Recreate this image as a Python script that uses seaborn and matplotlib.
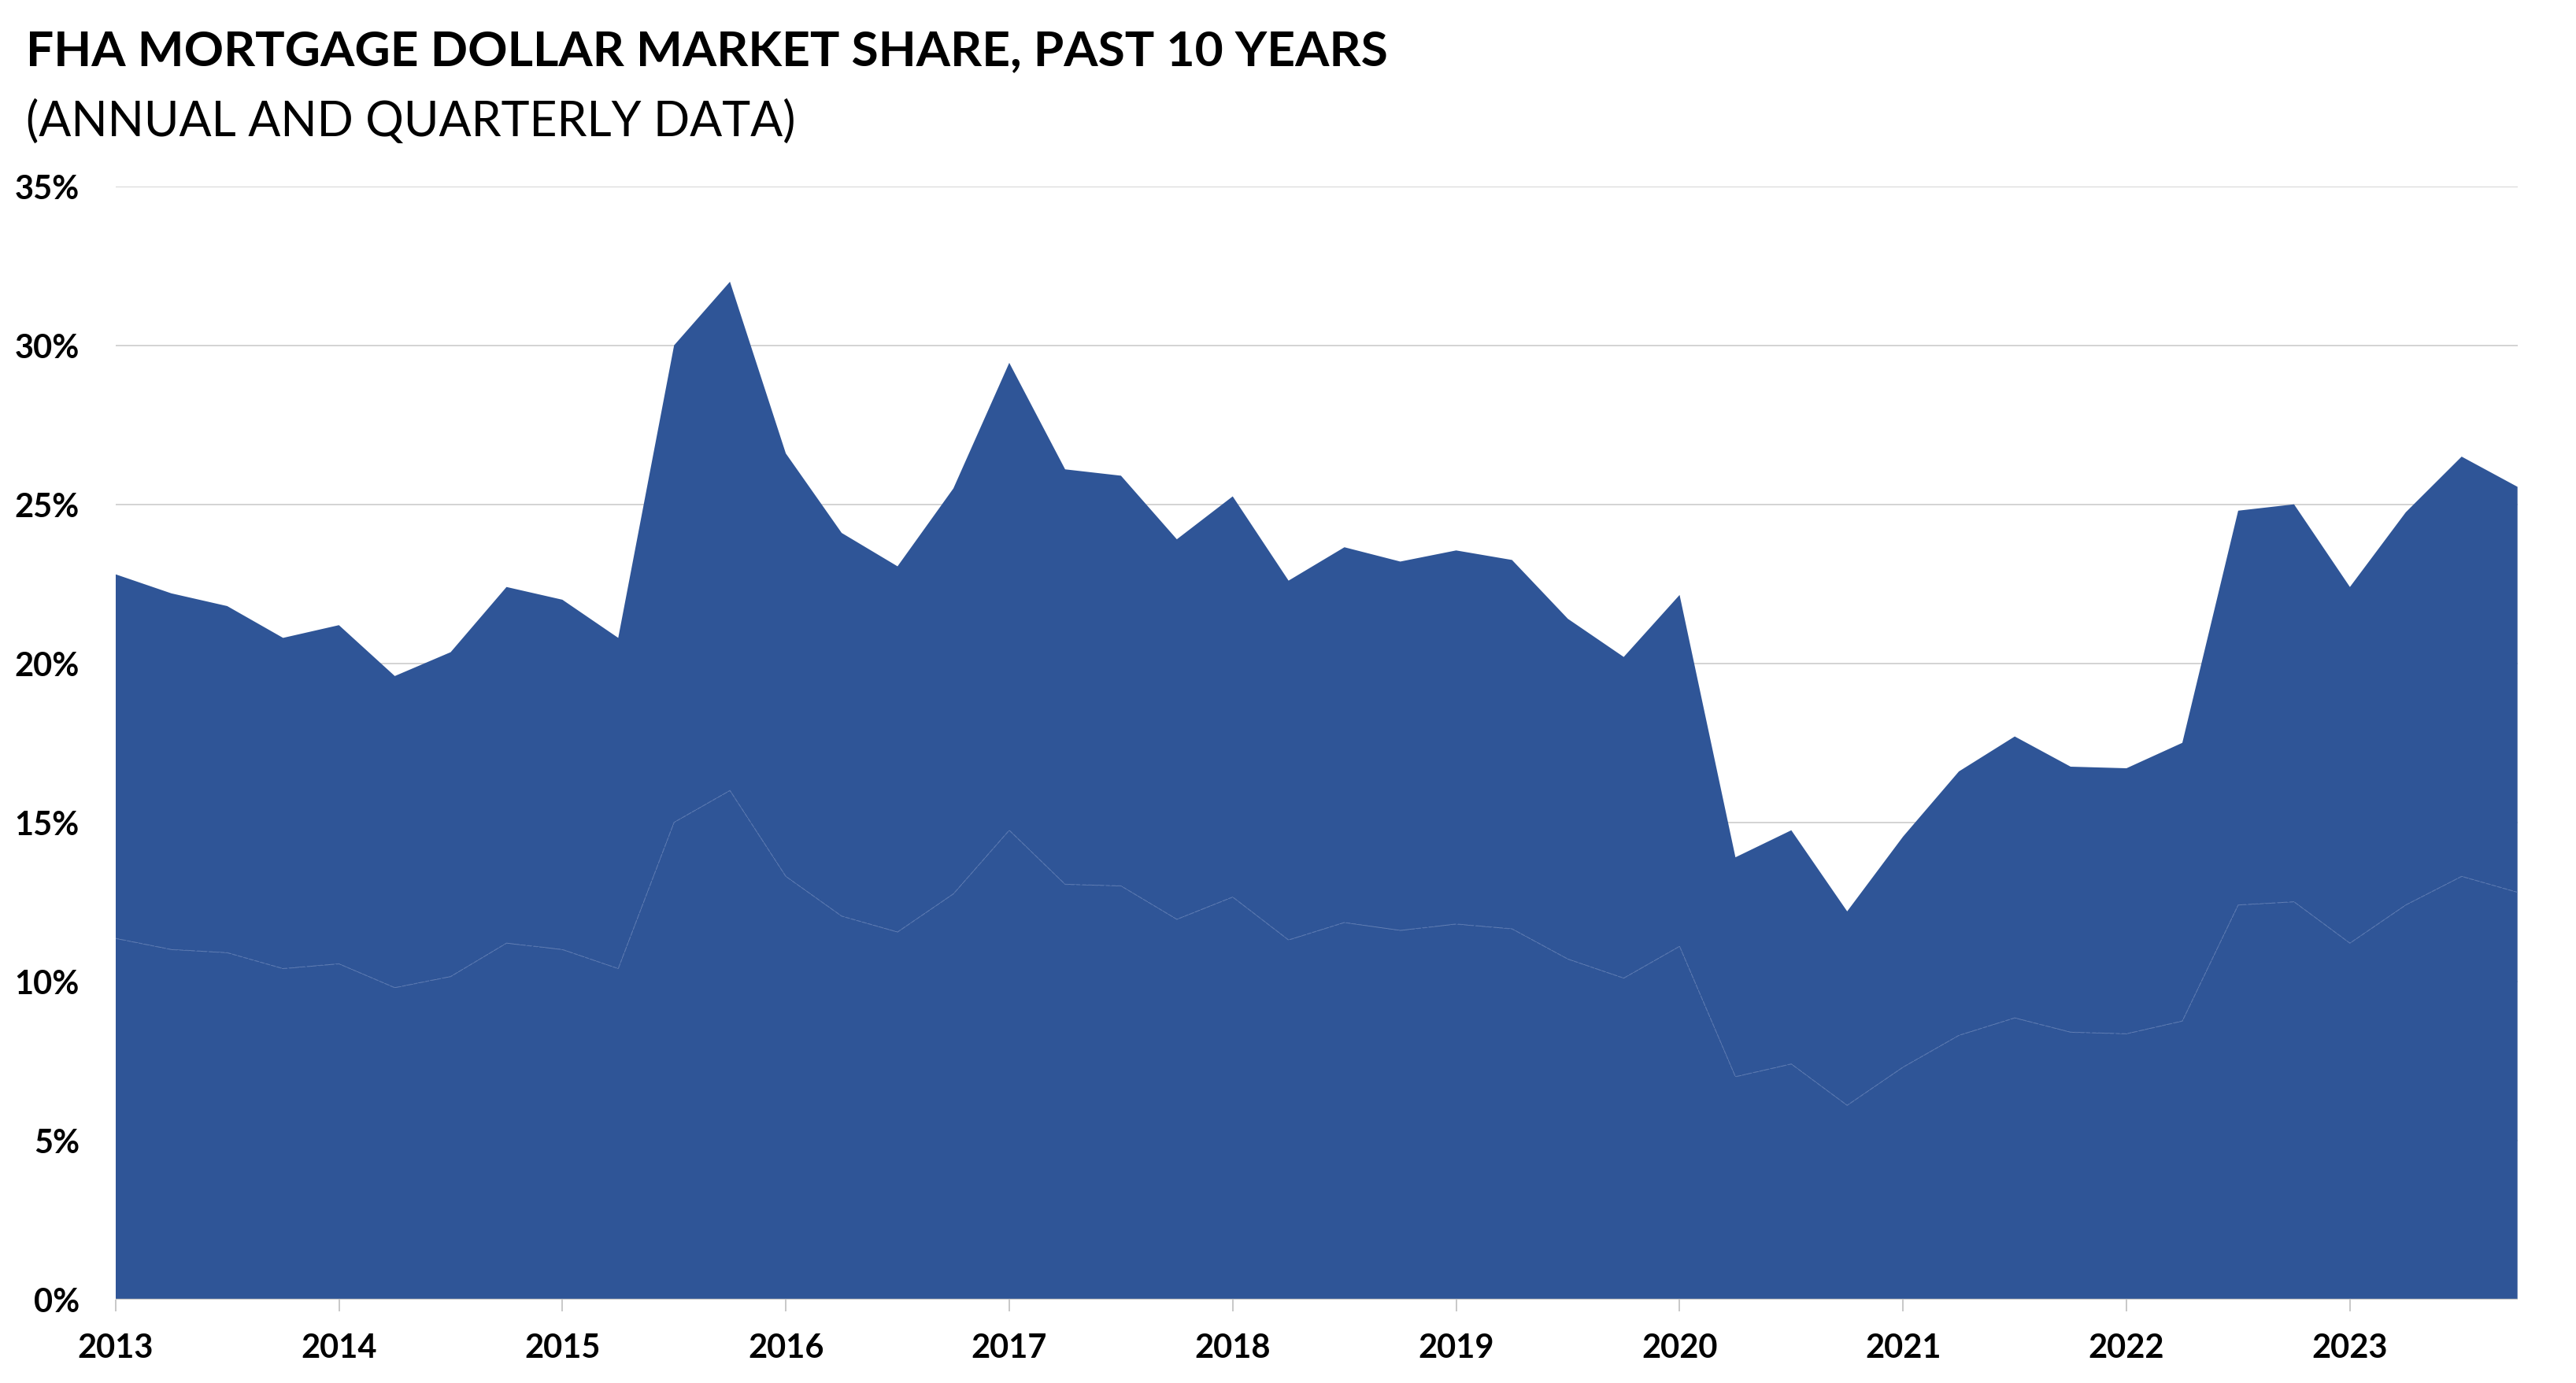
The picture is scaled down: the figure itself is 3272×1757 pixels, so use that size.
import matplotlib
matplotlib.use("Agg")
import matplotlib.pyplot as plt
import seaborn as sns
import numpy as np
import pandas as pd

# ---------------- data ----------------
quarters = [
    "2013Q1", "2013Q2", "2013Q3", "2013Q4",
    "2014Q1", "2014Q2", "2014Q3", "2014Q4",
    "2015Q1", "2015Q2", "2015Q3", "2015Q4",
    "2016Q1", "2016Q2", "2016Q3", "2016Q4",
    "2017Q1", "2017Q2", "2017Q3", "2017Q4",
    "2018Q1", "2018Q2", "2018Q3", "2018Q4",
    "2019Q1", "2019Q2", "2019Q3", "2019Q4",
    "2020Q1", "2020Q2", "2020Q3", "2020Q4",
    "2021Q1", "2021Q2", "2021Q3", "2021Q4",
    "2022Q1", "2022Q2", "2022Q3", "2022Q4",
    "2023Q1", "2023Q2", "2023Q3", "2023Q4",
]
# lower layer (annual share)
lower_share = [
    11.35, 11.0, 10.9, 10.4,
    10.55, 9.8, 10.15, 11.2,
    11.0, 10.4, 15.0, 16.0,
    13.3, 12.05, 11.55, 12.75,
    14.75, 13.05, 13.0, 11.95,
    12.65, 11.3, 11.85, 11.6,
    11.8, 11.65, 10.7, 10.1,
    11.1, 7.0, 7.4, 6.1,
    7.3, 8.3, 8.85, 8.4,
    8.35, 8.75, 12.4, 12.5,
    11.2, 12.4, 13.3, 12.8,
]
# top of the stack (cumulative)
total_share = [
    22.8, 22.2, 21.8, 20.8,
    21.2, 19.6, 20.35, 22.4,
    22.0, 20.8, 30.0, 32.0,
    26.6, 24.1, 23.05, 25.5,
    29.45, 26.1, 25.9, 23.9,
    25.25, 22.6, 23.65, 23.2,
    23.55, 23.25, 21.4, 20.2,
    22.15, 13.9, 14.75, 12.2,
    14.55, 16.6, 17.7, 16.75,
    16.7, 17.5, 24.8, 25.0,
    22.4, 24.75, 26.5, 25.55,
]
year_labels = ["2013", "2014", "2015", "2016", "2017", "2018",
               "2019", "2020", "2021", "2022", "2023"]
y_ticks = [0, 5, 10, 15, 20, 25, 30, 35]

title = "FHA MORTGAGE DOLLAR MARKET SHARE, PAST 10 YEARS"
subtitle = "(ANNUAL AND QUARTERLY DATA)"

# ---------------- build frame ----------------
df = pd.DataFrame({"quarter": quarters,
                   "lower": np.array(lower_share) / 100.0,
                   "total": np.array(total_share) / 100.0})
df["x"] = df["quarter"].str[:4].astype(int) + (df["quarter"].str[-1].astype(int) - 1) / 4.0
df["upper"] = df["total"] - df["lower"]

# ---------------- style ----------------
sns.set_theme(style="white")
plt.rcParams["font.family"] = ["Lato", "DejaVu Sans"]

FILL = "#2F5597"
EDGE = "#5574AE"
GRID = "#D3D3D3"

W, H, DPI = 3272, 1758, 100
fig = plt.figure(figsize=(W / DPI, H / DPI), dpi=DPI)
ax = fig.add_axes([146.7 / W, 1 - 1651.7 / H, (3197.7 - 146.7) / W, (1651.7 - 237.7) / H])

ax.stackplot(df["x"], df["lower"], df["upper"], colors=[FILL, FILL],
             linewidth=0, edgecolor="none", zorder=2)
sns.lineplot(data=df, x="x", y="lower", ax=ax, color=EDGE, linewidth=0.9,
             linestyle=(0, (4, 2)), zorder=3, legend=False)

ax.set_xlim(2013, 2023.75)
ax.set_ylim(0, 0.35)
ax.set_yticks([v / 100 for v in y_ticks])
ax.set_yticklabels([f"{v}%" for v in y_ticks])
ax.set_xticks(list(range(2013, 2024)))
ax.set_xticklabels(year_labels)
ax.set_xlabel("")
ax.set_ylabel("")

for v in y_ticks[1:]:
    ax.axhline(v / 100, color=GRID, linewidth=1.4, zorder=1)
ax.axhline(0, color="#BFBFBF", linewidth=1.6, zorder=4)

for s in ax.spines.values():
    s.set_visible(False)

ax.tick_params(axis="y", length=0, pad=33, labelsize=30)
ax.tick_params(axis="x", length=15 * 72 / DPI, width=1.2, color="#BFBFBF",
               direction="out", pad=20, labelsize=30, bottom=True)
for lab in ax.get_yticklabels() + ax.get_xticklabels():
    lab.set_fontweight("bold")
    lab.set_color("black")

# titles
t1 = fig.text(33 / W, 1 - 83 / H, title, fontsize=40, fontweight="bold",
              color="black", ha="left", va="baseline")
t2 = fig.text(33 / W, 1 - 173 / H, subtitle, fontsize=40, fontweight="normal",
              color="black", ha="left", va="baseline")

# fit title widths to the reference
fig.canvas.draw()
r = fig.canvas.get_renderer()
for t, target in ((t1, 1763 - 33), (t2, 1008 - 30)):
    w = t.get_window_extent(r).width
    t.set_fontsize(t.get_fontsize() * target / w)

fig.savefig("out.png", dpi=DPI, facecolor="white")
